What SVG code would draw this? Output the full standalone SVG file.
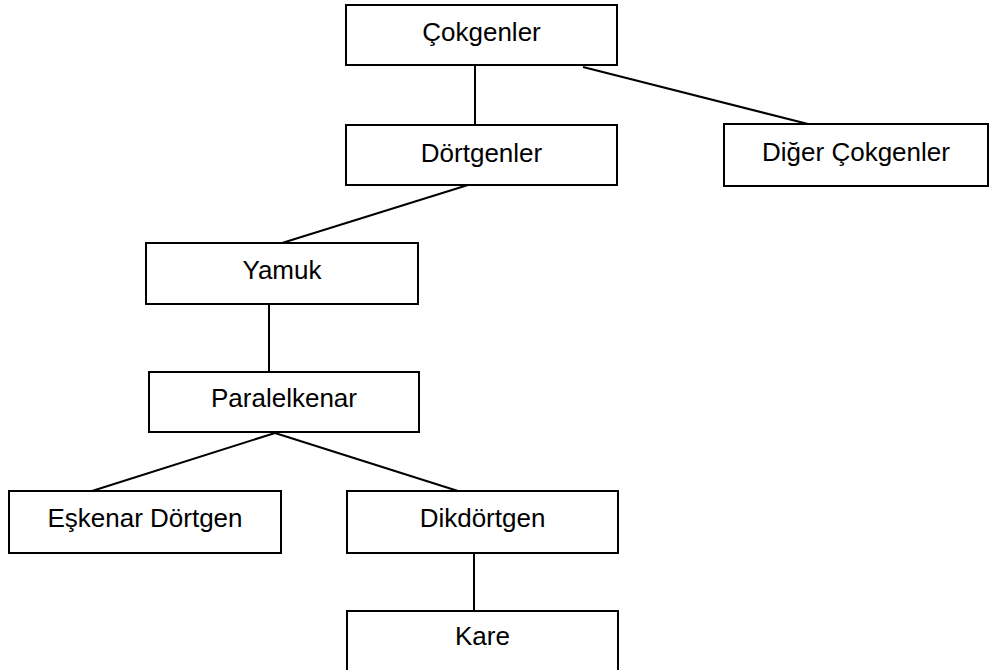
<svg xmlns="http://www.w3.org/2000/svg" width="989" height="670" viewBox="0 0 989 670">
  <style>
    .box { fill: #ffffff; stroke: #000000; stroke-width: 2; }
    .lbl { font-family: "Liberation Sans", Arial, sans-serif; font-size: 26px; fill: #000000; text-anchor: middle; }
    .edge { stroke: #000000; stroke-width: 2; fill: none; }
  </style>
  <rect width="989" height="670" fill="#ffffff"/>

  <!-- connectors -->
  <g id="connectors">
    <line class="edge" x1="475" y1="65" x2="475" y2="125"/>
    <line class="edge" x1="583" y1="67" x2="808" y2="124"/>
    <line class="edge" x1="468" y1="185" x2="282" y2="243"/>
    <line class="edge" x1="269" y1="304" x2="269" y2="372"/>
    <line class="edge" x1="275" y1="433" x2="92" y2="491"/>
    <line class="edge" x1="275" y1="433" x2="458" y2="491"/>
    <line class="edge" x1="474" y1="553" x2="474" y2="611"/>
  </g>

  <g id="cokgenler">
    <rect class="box" x="346" y="5" width="271" height="60"/>
    <text class="lbl" x="481.5" y="41">Çokgenler</text>
  </g>
  <g id="dortgenler">
    <rect class="box" x="346" y="125" width="271" height="60"/>
    <text class="lbl" x="481.5" y="162">Dörtgenler</text>
  </g>
  <g id="diger-cokgenler">
    <rect class="box" x="724" y="124" width="264" height="62"/>
    <text class="lbl" x="856" y="161">Diğer Çokgenler</text>
  </g>
  <g id="yamuk">
    <rect class="box" x="146" y="243" width="272" height="61"/>
    <text class="lbl" x="282" y="279">Yamuk</text>
  </g>
  <g id="paralelkenar">
    <rect class="box" x="149" y="372" width="270" height="60"/>
    <text class="lbl" x="284" y="407">Paralelkenar</text>
  </g>
  <g id="eskenar-dortgen">
    <rect class="box" x="9" y="491" width="272" height="62"/>
    <text class="lbl" x="145" y="527">Eşkenar Dörtgen</text>
  </g>
  <g id="dikdortgen">
    <rect class="box" x="347" y="491" width="271" height="62"/>
    <text class="lbl" x="482.5" y="527">Dikdörtgen</text>
  </g>
  <g id="kare">
    <rect class="box" x="347" y="611" width="271" height="70"/>
    <text class="lbl" x="482.5" y="645">Kare</text>
  </g>
</svg>
